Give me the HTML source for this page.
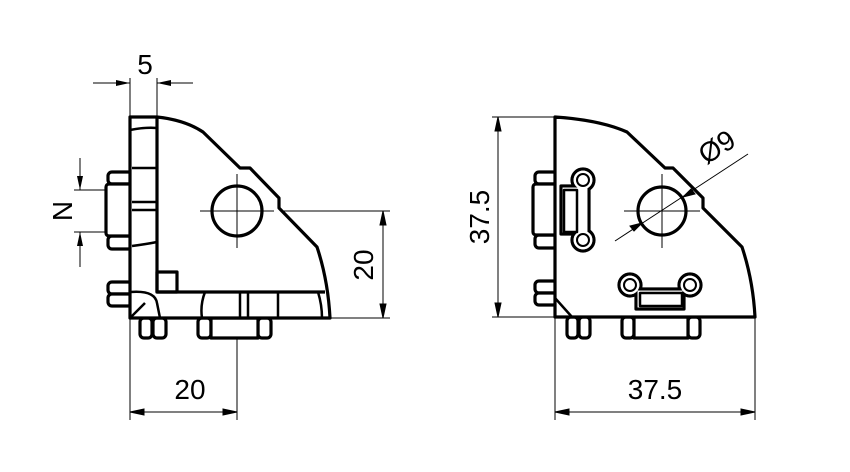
<!DOCTYPE html>
<html><head><meta charset="utf-8"><style>
html,body{margin:0;padding:0;background:#fff;}
svg{display:block}
text{font-family:"Liberation Sans",sans-serif;font-size:28px;fill:#000}
</style></head><body>
<svg width="850" height="472" viewBox="0 0 850 472" xmlns="http://www.w3.org/2000/svg">
<defs>
<marker id="a" markerWidth="14" markerHeight="6" refX="14" refY="3" orient="auto" markerUnits="userSpaceOnUse"><path d="M0,0 L14,3 L0,6 z" fill="#000"/></marker>
</defs>
<g fill="none" stroke="#000" stroke-width="1">
<line x1="130" y1="78" x2="130" y2="117"/><line x1="157" y1="78" x2="157" y2="117"/>
<line x1="93" y1="83" x2="130" y2="83" marker-end="url(#a)"/><line x1="193" y1="83" x2="157" y2="83" marker-end="url(#a)"/>
<line x1="74" y1="190" x2="108" y2="190"/><line x1="74" y1="232" x2="108" y2="232"/>
<line x1="80" y1="158" x2="80" y2="190" marker-end="url(#a)"/><line x1="80" y1="267" x2="80" y2="232" marker-end="url(#a)"/>
<line x1="268" y1="211" x2="390" y2="211"/><line x1="330" y1="318" x2="390" y2="318"/>
<line x1="383" y1="211" x2="383" y2="318"/>
<path d="M383,211 l-3,14 h6z M383,318 l-3,-14 h6z" fill="#000"/>
<line x1="130" y1="318" x2="130" y2="420"/><line x1="237" y1="240" x2="237" y2="420"/>
<line x1="130" y1="412" x2="237" y2="412"/>
<path d="M130,412 l14,-3 v6z M237,412 l-14,-3 v6z" fill="#000"/>
<line x1="492" y1="117" x2="555" y2="117"/><line x1="492" y1="317" x2="555" y2="317"/>
<line x1="498" y1="117" x2="498" y2="317"/>
<path d="M498,117 l-3,14 h6z M498,317 l-3,-14 h6z" fill="#000"/>
<line x1="555" y1="317" x2="555" y2="420"/><line x1="755" y1="317" x2="755" y2="420"/>
<line x1="555" y1="412" x2="755" y2="412"/>
<path d="M555,412 l14,-3 v6z M755,412 l-14,-3 v6z" fill="#000"/>
</g>
<g fill="#fff" stroke="#000" stroke-width="3.2" stroke-linejoin="round">
<!-- LEFT VIEW -->
<rect x="108" y="172" width="24" height="12" rx="4"/><rect x="108" y="236" width="24" height="13" rx="4"/>
<rect x="106" y="184" width="26" height="52" rx="3"/>
<rect x="108" y="282" width="24" height="12" rx="4"/><rect x="108" y="294" width="24" height="12" rx="4"/>
<rect x="140" y="318" width="12" height="20" rx="4"/><rect x="153" y="318" width="13" height="20" rx="4"/>
<rect x="198" y="318" width="13" height="20" rx="4"/><rect x="258" y="318" width="13" height="20" rx="4"/>
<rect x="211" y="318" width="47" height="20"/>
<path d="M130,117 H157 Q185,120 203,132 L240,168 H250 L279,198 V208 L317,247 Q328,280 330,318 H130 Z"/>
<path d="M157,117 V292 H325" fill="none"/>
<path d="M130,130 Q145,127 157,128 M132,168 H157 M132,202 H157 M132,210 H157 M132,246 Q147,244 157,242" fill="none" stroke-width="2.5"/>
<rect x="157" y="272" width="20" height="20" fill="none"/>
<path d="M130,292 Q155,290 157,303 Q160,318 160,318 M130,318 L145,303" fill="none" stroke-width="2.5"/>
<path d="M205,292 Q200,305 202,318 M240,292 V318 M248,292 V318 M278,292 V318 M318,292 Q322,305 322,318" fill="none" stroke-width="2.5"/>
<circle cx="237" cy="211" r="25"/>
<!-- RIGHT VIEW -->
<rect x="535" y="172" width="22" height="12" rx="4"/><rect x="535" y="235" width="22" height="13" rx="4"/>
<rect x="533" y="184" width="24" height="51" rx="3"/>
<rect x="535" y="281" width="22" height="12" rx="4"/><rect x="535" y="293" width="22" height="12" rx="4"/>
<rect x="567" y="317" width="11" height="21" rx="4"/><rect x="579" y="317" width="11" height="21" rx="4"/>
<rect x="622" y="317" width="12" height="21" rx="4"/><rect x="688" y="317" width="12" height="21" rx="4"/>
<rect x="634" y="317" width="54" height="21"/>
<path d="M555,117 Q600,120 627,132 L665,168 H673 L703,198 V208 L742,247 Q753,280 755,317 H555 Z"/>
<path d="M555,298 L572,317" fill="none" stroke-width="2.5"/>
<!-- left slot -->
<circle cx="583" cy="180" r="11"/><circle cx="583" cy="240" r="11"/>
<rect x="561" y="186" width="28" height="48"/>
<g stroke="none"><circle cx="583" cy="180" r="9.4"/><circle cx="583" cy="240" r="9.4"/><rect x="562.6" y="187.6" width="24.8" height="44.8"/></g>
<circle cx="583" cy="180" r="6" stroke-width="2"/><circle cx="583" cy="240" r="6" stroke-width="2"/>
<rect x="564" y="190" width="13" height="42" stroke-width="2.5"/>
<!-- bottom slot -->
<circle cx="630" cy="285" r="11"/><circle cx="690" cy="285" r="11"/>
<rect x="636" y="289" width="48" height="20"/>
<g stroke="none"><circle cx="630" cy="285" r="9.4"/><circle cx="690" cy="285" r="9.4"/><rect x="637.6" y="290.6" width="44.8" height="16.8"/></g>
<circle cx="630" cy="285" r="6" stroke-width="2"/><circle cx="690" cy="285" r="6" stroke-width="2"/>
<rect x="640" y="293" width="42" height="13" stroke-width="2.5"/>
<circle cx="662" cy="211" r="24"/>
</g>
<g fill="none" stroke="#000" stroke-width="1">
<line x1="200" y1="211" x2="274" y2="211"/><line x1="237" y1="174" x2="237" y2="248"/>
<line x1="624" y1="211" x2="700" y2="211"/><line x1="662" y1="174" x2="662" y2="248"/>
<line x1="615" y1="241" x2="748" y2="154"/>
<path d="M642,223 l-12,3 4,5z M683,197 l12,-3 -4,-5z" fill="#000"/>
</g>
<text x="145" y="74" text-anchor="middle">5</text>
<text transform="translate(72,211) rotate(-90)" text-anchor="middle">N</text>
<text transform="translate(373,265) rotate(-90)" text-anchor="middle">20</text>
<text x="190" y="399" text-anchor="middle">20</text>
<text transform="translate(489,217) rotate(-90)" text-anchor="middle">37.5</text>
<text x="655" y="399" text-anchor="middle">37.5</text>
<text transform="translate(722,155) rotate(-33)" text-anchor="middle">Ø9</text>
</svg>
</body></html>
